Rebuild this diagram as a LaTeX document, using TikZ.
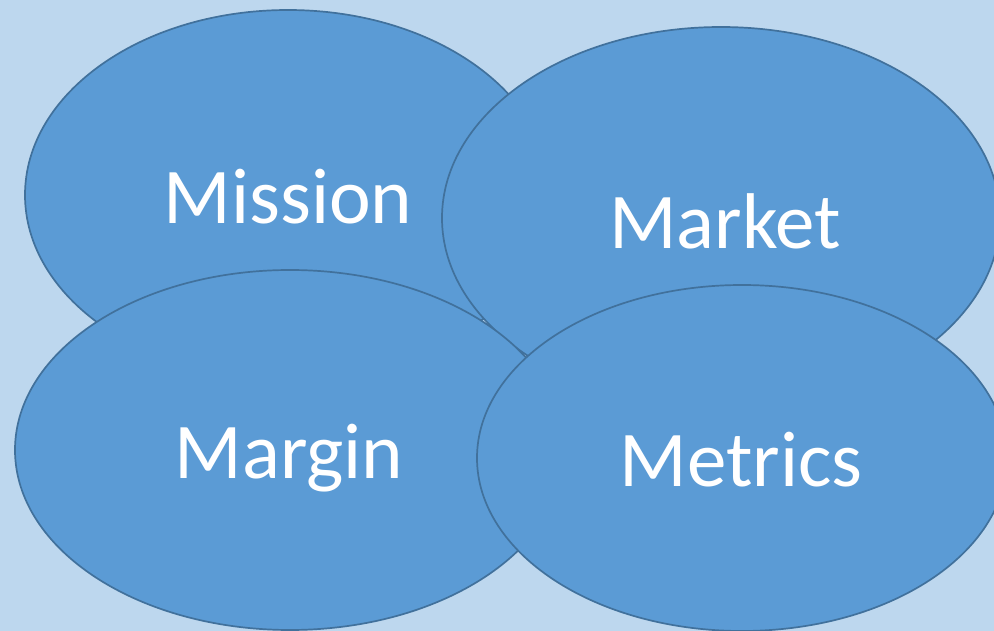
\documentclass[tikz,border=0pt]{standalone}
\usepackage{fontspec}
\setmainfont{Carlito}
\usetikzlibrary{shapes.geometric}
\definecolor{bgc}{HTML}{BDD7EE}
\definecolor{fillc}{HTML}{5B9BD5}
\definecolor{edgec}{HTML}{41719C}
\begin{document}
\begin{tikzpicture}[x=1pt,y=-1pt,
  blob/.style={ellipse,draw=edgec,fill=fillc,line width=1.7pt,inner sep=0pt},
  word/.style={text=white,anchor=base,font=\fontsize{79}{90}\selectfont,inner sep=0pt}]
\fill[bgc] (0,0) rectangle (994,631);
\useasboundingbox (0,0) rectangle (994,631);
\node[blob,minimum width=526pt,minimum height=370pt] (e1) at (288,195) {};
\node[blob,minimum width=558pt,minimum height=382pt] (e2) at (721,218) {};
\node[blob,minimum width=550pt,minimum height=360pt] (e3) at (290,450) {};
\node[blob,minimum width=530pt,minimum height=346pt] (e4) at (742,458) {};
\node[word] (t1) at (288,224) {Mission};
\node[word] (t2) at (725,249) {Market};
\node[word] (t3) at (289,478) {Margin};
\node[word] (t4) at (741,486) {Metrics};
\end{tikzpicture}
\end{document}
